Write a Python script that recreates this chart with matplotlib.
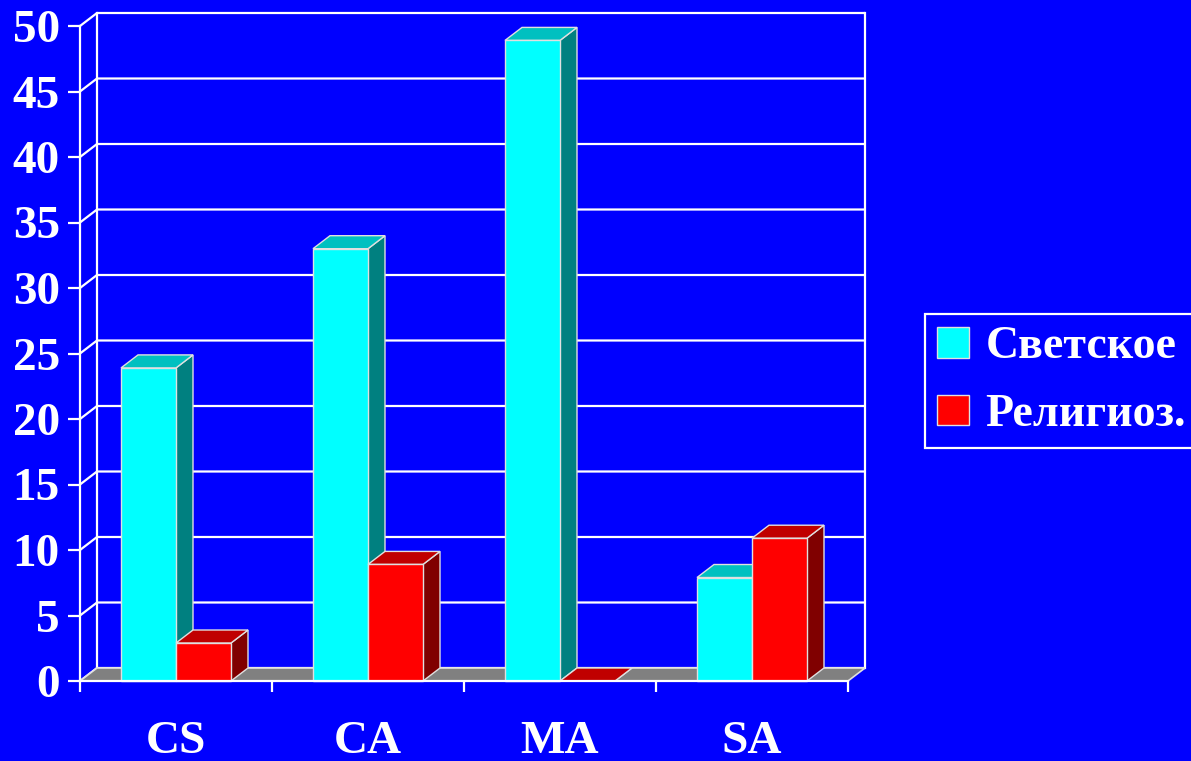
import matplotlib
matplotlib.use("Agg")
import matplotlib.pyplot as plt
from matplotlib.patches import Polygon, Patch
from matplotlib.font_manager import FontProperties

# ---- data ----
categories = ["CS", "CA", "MA", "SA"]
secular = [23.9, 33.0, 48.9, 7.9]
religious = [2.9, 8.9, 0.0, 10.9]
series_names = ["Светское", "Религиоз."]
y_ticks = [0, 5, 10, 15, 20, 25, 30, 35, 40, 45, 50]

# ---- style ----
BG = "#0000FF"
FRONT = ["#00FFFF", "#FF0000"]
TOP = ["#00C0C0", "#C00000"]
SIDE = ["#008080", "#800000"]
EDGE = "#E0E0E0"
FONT = "Liberation Serif"

W, H = 1191, 761
fig = plt.figure(figsize=(W / 100, H / 100), dpi=100, facecolor=BG)
ax = fig.add_axes([80 / W, (H - 681) / H, 768 / W, 655 / H])
ax.set_facecolor("none")
n = len(categories)
ax.set_xlim(0, n)
ax.set_ylim(0, y_ticks[-1])

DX = 17 / 192.0   # depth offset in category units
DY = 13 / 13.1    # depth offset in value units
BW = 55 / 192.0   # bar width

ymax = y_ticks[-1]
# back wall grid
for t in y_ticks:
    ax.plot([0, DX, n + DX], [t, t + DY, t + DY], color="white", lw=1.6,
            clip_on=False, zorder=1, solid_capstyle="butt")
ax.plot([DX, DX], [DY, ymax + DY], color="white", lw=1.6, clip_on=False, zorder=1)
ax.plot([n + DX, n + DX], [DY, ymax + DY], color="white", lw=1.6, clip_on=False, zorder=1)

# floor
ax.add_patch(Polygon([(0, 0), (n, 0), (n + DX, DY), (DX, DY)], closed=True,
                     facecolor="#808080", edgecolor=EDGE, lw=1.2, clip_on=False, zorder=2))


def bar3d(x0, v, k, z):
    x1 = x0 + BW
    ax.add_patch(Polygon([(x1, 0), (x1 + DX, DY), (x1 + DX, v + DY), (x1, v)], closed=True,
                         facecolor=SIDE[k], edgecolor=EDGE, lw=1.0, clip_on=False, zorder=z))
    ax.add_patch(Polygon([(x0, v), (x1, v), (x1 + DX, v + DY), (x0 + DX, v + DY)], closed=True,
                         facecolor=TOP[k], edgecolor=EDGE, lw=1.0, clip_on=False, zorder=z))
    if v > 0:
        ax.add_patch(Polygon([(x0, 0), (x1, 0), (x1, v), (x0, v)], closed=True,
                             facecolor=FRONT[k], edgecolor=EDGE, lw=1.0, clip_on=False, zorder=z))


z = 3
for i in range(n):
    c = i + 0.5
    for k, vals in enumerate([secular, religious]):
        bar3d(c - BW + k * BW, vals[i], k, z)
        z += 1

# axes / ticks
for s in ["top", "right"]:
    ax.spines[s].set_visible(False)
for s in ["left", "bottom"]:
    ax.spines[s].set_color("white")
    ax.spines[s].set_linewidth(1.6)
    ax.spines[s].set_zorder(20)

fp_tick = FontProperties(family=FONT, weight="bold", size=34)
ax.set_yticks(y_ticks)
ax.set_yticklabels([str(t) for t in y_ticks], fontproperties=fp_tick, color="white")
ax.tick_params(axis="y", colors="white", length=8.5, width=1.6, pad=6)

ax.set_xticks(range(n + 1))
ax.set_xticklabels([""] * (n + 1))
ax.set_xticks([i + 0.5 for i in range(n)], minor=True)
fp_cat = FontProperties(family=FONT, weight="bold", size=34)
ax.set_xticklabels(categories, minor=True, fontproperties=fp_cat, color="white")
ax.tick_params(axis="x", which="major", colors="white", length=8, width=1.6)
ax.tick_params(axis="x", which="minor", length=0, pad=29, colors="white")

# legend
handles = [Patch(facecolor=FRONT[0], edgecolor=EDGE), Patch(facecolor=FRONT[1], edgecolor=EDGE)]
fp_leg = FontProperties(family=FONT, weight="bold", size=33)
leg = fig.legend(handles, series_names, loc="upper left",
                 bbox_to_anchor=(925 / W, 1 - 314 / H), prop=fp_leg,
                 frameon=True, facecolor=BG, edgecolor="white", fancybox=False,
                 framealpha=1, handlelength=0.68, handleheight=0.65,
                 handletextpad=0.37, borderpad=0.27, labelspacing=0.56,
                 borderaxespad=0, labelcolor="white")
leg.get_frame().set_linewidth(1.6)

fig.savefig("out.png", dpi=100, facecolor=BG)
